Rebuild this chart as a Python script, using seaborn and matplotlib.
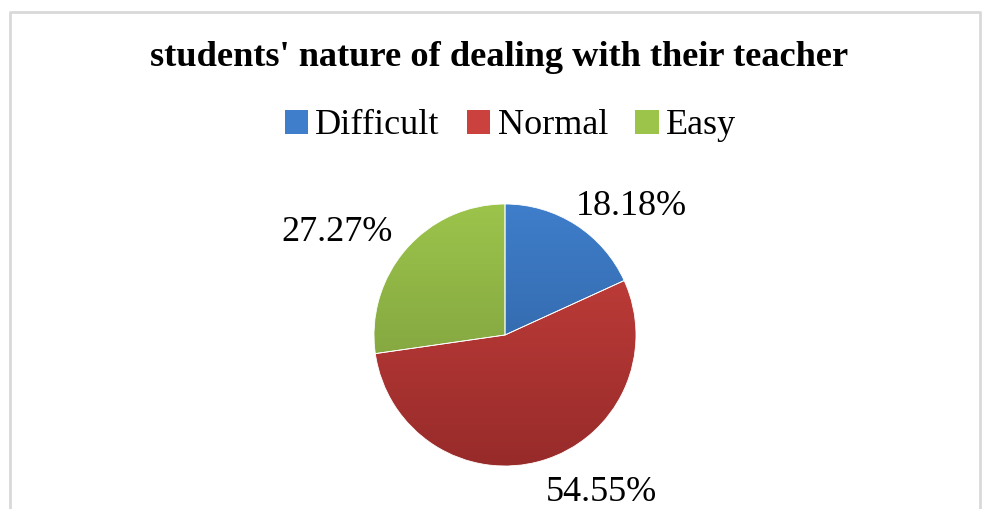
import numpy as np
import matplotlib.pyplot as plt
import matplotlib.colors as mcolors
from matplotlib.patches import Patch
import seaborn as sns

# chart data
categories = ["Difficult", "Normal", "Easy"]
shares = [18.18, 54.55, 27.27]
top_colors = ["#3f7ecb", "#ca413d", "#9cc44b"]
bottom_colors = ["#2b5b96", "#972b2a", "#75943a"]

sns.set_theme(style="white")
plt.rcParams["font.family"] = ["Liberation Serif", "DejaVu Serif"]
plt.rcParams["text.color"] = "black"

W, H = 991, 509
fig = plt.figure(figsize=(W / 100, H / 100), dpi=100)
ax = fig.add_axes([0, 0, 1, 1])

# light frame (left, top, right)
ax.plot([10, 10, 980, 980], [-5, H - 12, H - 12, -5], color="#d9d9d9", lw=2)

cx, cy, r = 505, H - 335, 131
wedges, _, autotexts = ax.pie(
    shares,
    colors=top_colors,
    startangle=90,
    counterclock=False,
    center=(cx, cy),
    radius=r,
    autopct="%.2f%%",
    pctdistance=1.4,
    wedgeprops=dict(edgecolor="white", linewidth=0.6),
    textprops=dict(fontsize=26, color="black"),
    frame=True,
)
ax.set_xlim(0, W)
ax.set_ylim(0, H)
ax.set_aspect("equal")
ax.axis("off")

# vertical gradient per wedge, like the office chart fill
grad = np.linspace(0, 1, 256).reshape(-1, 1)
for w, c_top, c_bot in zip(wedges, top_colors, bottom_colors):
    cmap = mcolors.LinearSegmentedColormap.from_list("g", [c_bot, c_top])
    im = ax.imshow(grad, cmap=cmap, origin="lower", aspect="auto",
                   extent=(cx - r, cx + r, cy - r, cy + r), zorder=w.get_zorder() + 0.1)
    im.set_clip_path(w)
    w.set_facecolor("none")
    w.set_zorder(w.get_zorder() + 0.2)

# label placement (angle in degrees, distance in radii)
label_pos = [(45.5, 1.38), (-58.5, 1.41), (148.5, 1.5)]
for t, (ang, d) in zip(autotexts, label_pos):
    a = np.deg2rad(ang)
    t.set_position((cx + d * r * np.cos(a), cy + d * r * np.sin(a)))
    t.set_ha("center")
    t.set_va("center")

fig.text(0.5035, 1 - 57 / H, "students' nature of dealing with their teacher",
         ha="center", va="center", fontsize=26.2, fontweight="bold", color="black")

handles = [Patch(facecolor=c, edgecolor="none") for c in top_colors]
fig.legend(handles, categories, loc="center", bbox_to_anchor=(0.515, 1 - 126 / H),
           ncol=3, frameon=False, fontsize=26, handlelength=0.65, handleheight=0.65,
           handletextpad=0.2, columnspacing=0.75, labelcolor="black")

fig.savefig("out.png", dpi=100)
